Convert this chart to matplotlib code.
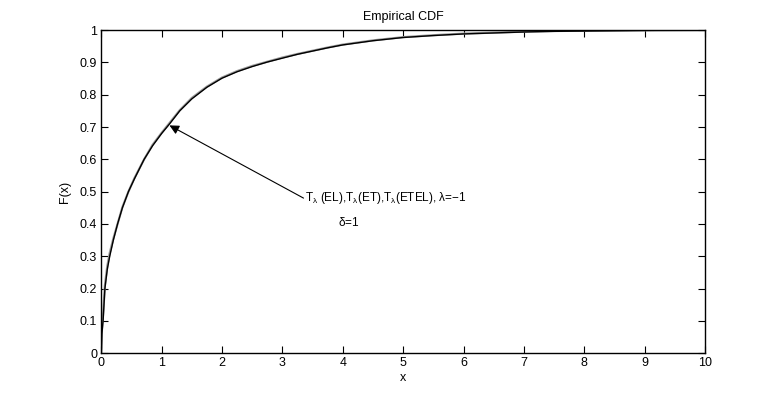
import matplotlib.pyplot as plt
import numpy as np

plt.rcParams['font.family'] = ['Liberation Sans', 'DejaVu Sans']
plt.rcParams['mathtext.fontset'] = 'custom'
plt.rcParams['mathtext.rm'] = 'Liberation Sans'
plt.rcParams['mathtext.default'] = 'regular'

# empirical cdf values
x_black = [0, 0.01, 0.03, 0.06, 0.1, 0.14, 0.2, 0.27, 0.35, 0.45, 0.55, 0.71, 0.85, 1.0, 1.12, 1.3, 1.5, 1.75, 2.0,
           2.25, 2.5, 2.75, 3.0, 3.25, 3.5, 3.75, 4.0, 4.5, 5.0, 5.5, 6.0, 6.5, 7.0, 7.5, 8.0, 9.0, 10.0]
F_black = [0, 0.06, 0.10, 0.20, 0.26, 0.30, 0.35, 0.40, 0.45, 0.50, 0.54, 0.60, 0.642, 0.68, 0.707, 0.75, 0.787, 0.823, 0.851,
           0.871, 0.887, 0.901, 0.913, 0.925, 0.935, 0.945, 0.954, 0.967, 0.977, 0.983, 0.988, 0.991, 0.994, 0.996, 0.997, 0.999, 1.0]
x_gray = [0, 0.01, 0.03, 0.06, 0.1, 0.14, 0.2, 0.27, 0.35, 0.45, 0.55, 0.71, 0.85, 1.0, 1.12, 1.3, 1.5, 1.75, 2.0,
          2.25, 2.5, 2.75, 3.0, 3.25, 3.5, 3.75, 4.0, 4.5, 5.0, 5.5, 6.0, 6.5, 7.0, 7.5, 8.0, 9.0, 10.0]
F_gray = [0, 0.07, 0.12, 0.21, 0.27, 0.31, 0.355, 0.40, 0.452, 0.50, 0.542, 0.60, 0.645, 0.682, 0.71, 0.752, 0.79, 0.825, 0.853,
          0.873, 0.889, 0.902, 0.915, 0.926, 0.936, 0.946, 0.955, 0.968, 0.978, 0.984, 0.989, 0.992, 0.995, 0.997, 0.998, 0.999, 1.0]

xticks = list(range(0, 11))
yticks = [0, 0.1, 0.2, 0.3, 0.4, 0.5, 0.6, 0.7, 0.8, 0.9, 1]
ytick_labels = ['0', '0.1', '0.2', '0.3', '0.4', '0.5', '0.6', '0.7', '0.8', '0.9', '1']

fig = plt.figure(figsize=(7.79, 3.98), dpi=100)
ax = fig.add_axes([0.1300, 0.1125, 0.7750, 0.8120])

ax.plot(x_gray, F_gray, color='#999999', lw=1.6)
ax.plot(x_black, F_black, color='black', lw=1.0)

ax.set_xlim(0, 10)
ax.set_ylim(0, 1)
ax.set_xticks(xticks)
ax.set_yticks(yticks)
ax.set_yticklabels(ytick_labels)
ax.tick_params(direction='in', top=True, right=True, length=5, labelsize=9, pad=3)
for s in ax.spines.values():
    s.set_linewidth(1.0)

ax.set_title('Empirical CDF', fontsize=9, pad=7)
ax.set_xlabel('x', fontsize=9, labelpad=2)
ax.set_ylabel('F(x)', fontsize=9, labelpad=6)

ax.annotate('', xy=(1.13, 0.705), xytext=(3.35, 0.48),
            arrowprops=dict(arrowstyle='-|>', color='black', lw=0.8,
                            mutation_scale=14, shrinkA=0, shrinkB=0))
ax.text(3.37, 0.48, r'T$_{\lambda}$ (EL),T$_{\lambda}$(ET),T$_{\lambda}$(ETEL), $\lambda$=−1',
        fontsize=8.5, va='center', ha='left')
ax.text(4.1, 0.405, r'$\delta$=1', fontsize=8.5, va='center', ha='center')

fig.savefig('out.png', dpi=100)
